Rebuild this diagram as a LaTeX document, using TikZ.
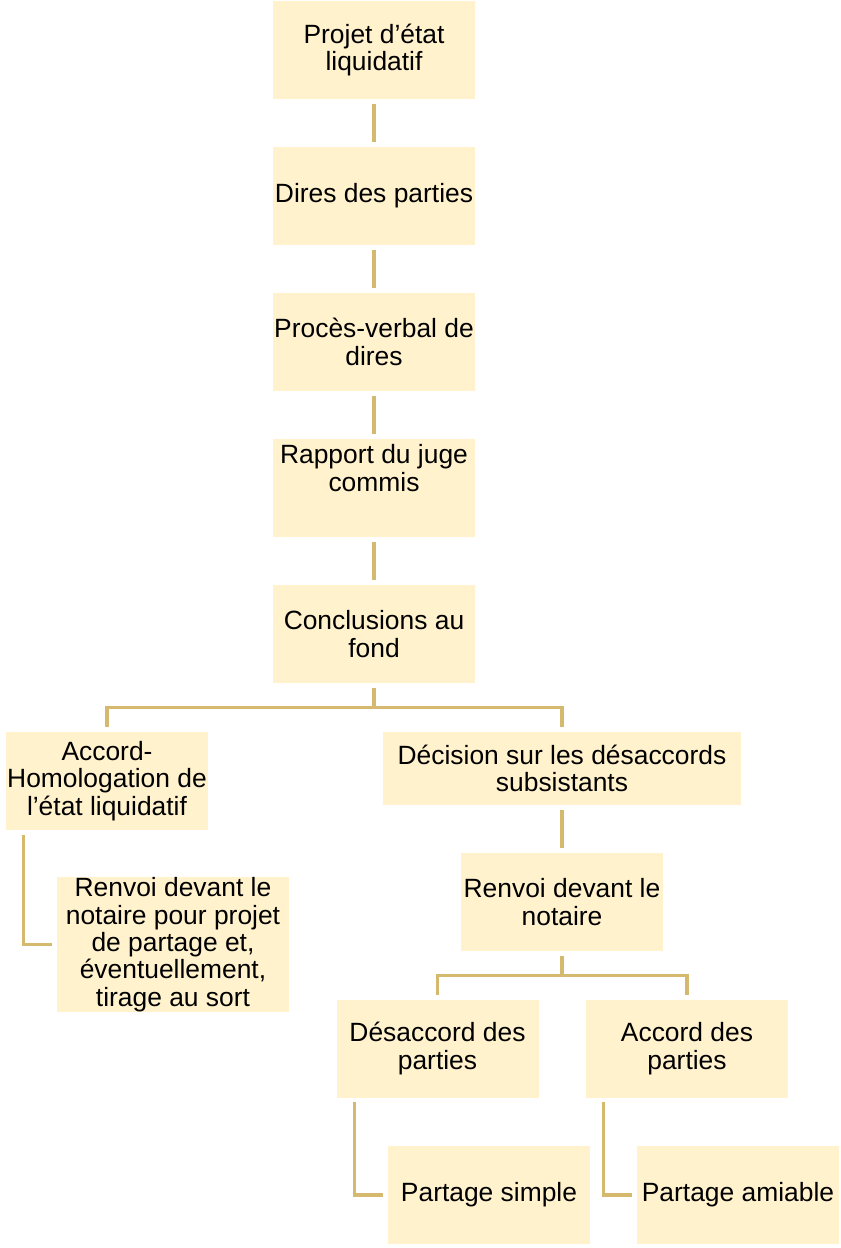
\documentclass[tikz,border=0pt]{standalone}
\usepackage{fontspec}
\setmainfont{Liberation Sans}
\usetikzlibrary{calc}
\definecolor{boxfill}{HTML}{FFF2CC}
\definecolor{linecol}{HTML}{D4B96E}
\tikzset{
  box/.style={fill=boxfill, draw=none, inner sep=0pt, align=center,
    minimum width=151.5pt, minimum height=73.5pt,
    font=\fontsize{19.8pt}{20.5pt}\selectfont},
  plain/.style={inner sep=0pt, align=center, font=\fontsize{19.8pt}{20.5pt}\selectfont},
  conn/.style={draw=linecol, line width=2.5pt},
  sconn/.style={conn, shorten <=3.5pt, shorten >=3.5pt}
}
\begin{document}
\begin{tikzpicture}[x=0.75pt,y=-0.75pt]
\useasboundingbox (0,0) rectangle (841,1248);
% main column
\node[box] (b1) at (374,50) {Projet d’état\\liquidatif};
\node[box] (b2) at (374,196) {Dires des parties};
\node[box] (b3) at (374,342) {Procès-verbal de\\dires};
\node[box] (b4) at (374,488) {};
\node[plain] (b4t) at (374,468) {Rapport du juge\\commis};
\node[box] (b5) at (374,634) {Conclusions au\\fond};
% second level
\node[box] (b6) at (107,781) {Accord-\\Homologation de\\l’état liquidatif};
\node[box, minimum width=268.5pt, minimum height=54.75pt] (b7) at (562,768.5) {Décision sur les désaccords\\subsistants};
\node[box, minimum width=174pt, minimum height=101.25pt] (b8) at (173,944.5) {Renvoi devant le\\notaire pour projet\\de partage et,\\éventuellement,\\tirage au sort};
\node[box] (b9) at (562,902) {Renvoi devant le\\notaire};
\node[box] (b10) at (437.5,1048.5) {Désaccord des\\parties};
\node[box] (b11) at (687,1048.5) {Accord des\\parties};
\node[box] (b12) at (489,1195) {Partage simple};
\node[box] (b13) at (738,1195) {Partage amiable};
% connectors
\draw[sconn] (b1) -- (b2);
\draw[sconn] (b2) -- (b3);
\draw[sconn] (b3) -- (b4);
\draw[sconn] (b4) -- (b5);
\coordinate (j1) at (374,707.5);
\draw[conn] ([yshift=-3.5pt]b5.south) -- (j1);
\draw[conn] ([yshift=3.5pt]b6.north) |- (j1) -| ([yshift=3.5pt]b7.north);
\draw[sconn] (b7) -- (b9);
\coordinate (j2) at (562,975.5);
\draw[conn] ([yshift=-3.5pt]b9.south) -- (j2);
\draw[conn] ([yshift=3.5pt]b10.north) |- (j2) -| ([yshift=3.5pt]b11.north);
\draw[conn] ($(b6.south west)+(18,4.5)$) |- ([xshift=-3.5pt]b8.west);
\draw[conn] ($(b10.south west)+(18,4.5)$) |- ([xshift=-3.5pt]b12.west);
\draw[conn] ($(b11.south west)+(18,4.5)$) |- ([xshift=-3.5pt]b13.west);
\end{tikzpicture}
\end{document}
